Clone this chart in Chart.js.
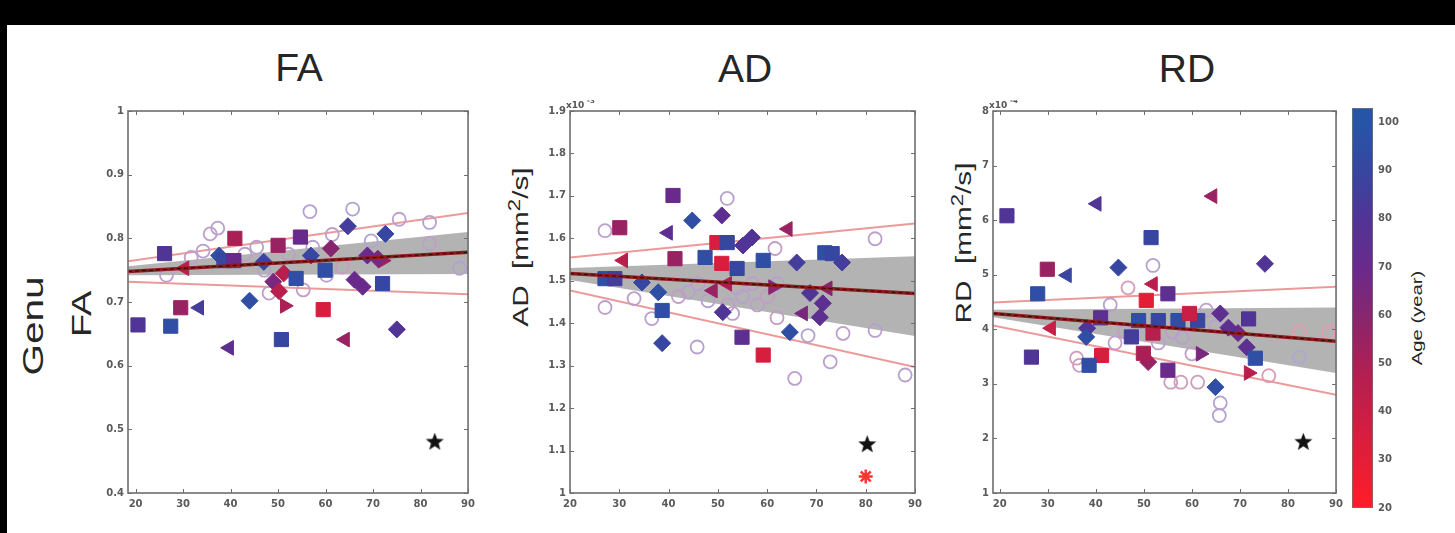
<!DOCTYPE html>
<html>
<head>
<meta charset="utf-8">
<script src="https://cdn.jsdelivr.net/npm/chart.js@4.4.1/dist/chart.umd.min.js"></script>
<style>
  html, body { margin: 0; padding: 0; background: #000; }
  body { width: 1455px; height: 533px; position: relative; overflow: hidden; font-family: 'Liberation Sans', Arial, sans-serif; }
  #sheet { position: absolute; left: 7px; top: 25px; width: 1448px; height: 508px; background: #fff; }
  canvas { position: absolute; }
  .title { position: absolute; font-size: 39px; color: #262626; line-height: 1; white-space: nowrap; transform: translate(-50%, -50%); }
  .vlabel { position: absolute; color: #262626; line-height: 1; white-space: nowrap; transform: translate(-50%, -50%) rotate(-90deg) scaleX(1.35); }
  .vlabel sup { font-size: 0.75em; }
</style>
</head>
<body>
<div id="sheet"></div>

<div class="title" style="left:299px; top:67px;">FA</div>
<div class="title" style="left:745px; top:68px;">AD</div>
<div class="title" style="left:1187px; top:68px;">RD</div>

<div class="vlabel" style="left:33px; top:326px; font-size:30px;">Genu</div>
<div class="vlabel" style="left:82px; top:314px; font-size:28px;">FA</div>
<div class="vlabel" style="left:519px; top:247px; font-size:22px;">AD&nbsp;&nbsp;[mm<sup>2</sup>/s]</div>
<div class="vlabel" style="left:962px; top:243px; font-size:22px;">RD&nbsp;&nbsp;[mm<sup>2</sup>/s]</div>
<div class="vlabel" style="left:1416px; top:318px; font-size:15px;">Age (year)</div>

<canvas id="faChart" width="392" height="420" style="left:88px; top:100px;"></canvas>
<canvas id="adChart" width="400" height="420" style="left:530px; top:100px;"></canvas>
<canvas id="rdChart" width="395" height="420" style="left:953px; top:100px;"></canvas>
<canvas id="cbChart" width="110" height="425" style="left:1345px; top:95px;"></canvas>

<script>
// ---- data ----
// groups: 0 square, 1 diamond, 2 left triangle, 3 right triangle, 4 open circle, 5 star, 6 asterisk
const xTicks = [20, 30, 40, 50, 60, 70, 80, 90];

// FA
const faX = [20.5, 26.1, 27.4, 29.5, 38.6, 40.9, 40.7, 50.0, 50.7, 53.8, 54.7, 59.5, 59.9, 72.0,
  37.6, 44.0, 47.0, 49.0, 51.2, 50.2, 56.9, 61.1, 64.7, 66.1, 67.8, 68.8, 71.0, 72.6, 75.0,
  30.3, 33.4, 39.7, 64.1,
  51.4, 72.0,
  26.5, 34.2, 35.7, 37.3, 48.1, 55.3, 56.7, 60.2, 61.4, 65.7, 75.5, 81.9, 81.9, 88.2, 43.0, 45.5, 52.2, 57.3, 69.6, 63.5, 31.7, 47.1,
  83.0];
const faY = [0.664, 0.776, 0.662, 0.691, 0.765, 0.800, 0.765, 0.789, 0.641, 0.737, 0.802, 0.688, 0.750, 0.729,
  0.773, 0.702, 0.763, 0.732, 0.745, 0.717, 0.773, 0.784, 0.819, 0.735, 0.724, 0.773, 0.768, 0.807, 0.657,
  0.753, 0.691, 0.628, 0.641,
  0.694, 0.765,
  0.742, 0.780, 0.807, 0.816, 0.714, 0.719, 0.842, 0.742, 0.806, 0.846, 0.830, 0.825, 0.792, 0.753, 0.775, 0.786, 0.775, 0.786, 0.796, 0.755, 0.770, 0.750,
  0.480];
const faGroup = [0, 0, 0, 0, 0, 0, 0, 0, 0, 0, 0, 0, 0, 0,
  1, 1, 1, 1, 1, 1, 1, 1, 1, 1, 1, 1, 1, 1, 1,
  2, 2, 2, 2,
  3, 3,
  4, 4, 4, 4, 4, 4, 4, 4, 4, 4, 4, 4, 4, 4, 4, 4, 4, 4, 4, 4, 4, 4,
  5];
const faAge = [80, 80, 95, 55, 90, 50, 70, 55, 90, 95, 70, 35, 95, 90,
  95, 95, 90, 65, 45, 45, 90, 60, 85, 70, 70, 70, 65, 90, 80,
  45, 85, 75, 55,
  50, 55,
  70, 75, 70, 75, 70, 65, 75, 70, 70, 80, 70, 75, 70, 80, 70, 75, 70, 75, 80, 60, 70, 75,
  0];
const faLineX = [18.4, 90];
const faFit = [0.748, 0.778];
const faBandHi = [0.756, 0.810];
const faBandLo = [0.742, 0.744];
const faPredHi = [0.764, 0.840];
const faPredLo = [0.732, 0.712];
const faYTicks = [0.4, 0.5, 0.6, 0.7, 0.8, 0.9, 1];

// AD (x10^-3 mm^2/s)
const adX = [40.9, 30.1, 49.8, 51.9, 41.3, 47.4, 50.8, 53.9, 59.2, 27.1, 29.1, 38.7, 54.9, 59.2, 71.7, 73.2,
  44.8, 50.8, 55.1, 56.9, 34.6, 37.9, 38.7, 51.0, 75.2, 66.0, 68.7, 71.3, 70.7, 64.6,
  39.9, 30.8, 51.9, 49.0, 64.2, 72.3, 67.3,
  61.2,
  27.1, 51.9, 27.1, 36.6, 45.8, 61.6, 81.9, 68.3, 75.4, 81.9, 72.8, 65.6, 88.0, 33.0, 42.0, 48.0, 52.0, 55.0, 58.0, 60.0, 62.0, 57.0, 44.0, 54.0, 62.0, 46.0, 53.0,
  80.3, 80.0];
const adY = [1.701, 1.625, 1.590, 1.590, 1.552, 1.555, 1.541, 1.529, 1.548, 1.505, 1.505, 1.430, 1.367, 1.325, 1.566, 1.564,
  1.642, 1.654, 1.583, 1.602, 1.496, 1.473, 1.353, 1.426, 1.543, 1.543, 1.471, 1.447, 1.414, 1.379,
  1.613, 1.548, 1.493, 1.477, 1.622, 1.482, 1.423,
  1.485,
  1.618, 1.694, 1.437, 1.411, 1.344, 1.576, 1.599, 1.371, 1.376, 1.383, 1.309, 1.270, 1.278, 1.458, 1.463, 1.453, 1.443, 1.463, 1.443, 1.463, 1.493, 1.493, 1.473, 1.483, 1.413, 1.493, 1.423,
  1.114, 1.039];
const adGroup = [0, 0, 0, 0, 0, 0, 0, 0, 0, 0, 0, 0, 0, 0, 0, 0,
  1, 1, 1, 1, 1, 1, 1, 1, 1, 1, 1, 1, 1, 1,
  2, 2, 2, 2, 2, 2, 2,
  3,
  4, 4, 4, 4, 4, 4, 4, 4, 4, 4, 4, 4, 4, 4, 4, 4, 4, 4, 4, 4, 4, 4, 4, 4, 4, 4, 4,
  5, 6];
const adAge = [70, 55, 35, 90, 55, 95, 35, 90, 95, 95, 85, 95, 75, 35, 95, 90,
  95, 75, 80, 80, 90, 95, 90, 80, 85, 85, 80, 75, 75, 95,
  75, 45, 50, 55, 55, 60, 65,
  60,
  70, 75, 70, 70, 75, 65, 70, 75, 70, 75, 70, 70, 75, 70, 65, 75, 70, 75, 70, 65, 75, 70, 75, 70, 65, 75, 70,
  0, 20];
const adLineX = [20, 90];
const adFit = [1.517, 1.470];
const adBandHi = [1.530, 1.558];
const adBandLo = [1.502, 1.370];
const adPredHi = [1.555, 1.635];
const adPredLo = [1.477, 1.297];
const adYTicks = [1, 1.1, 1.2, 1.3, 1.4, 1.5, 1.6, 1.7, 1.8, 1.9];

// RD (x10^-4 mm^2/s)
const rdX = [21.5, 26.6, 27.9, 29.9, 41.0, 41.2, 38.6, 47.4, 48.9, 53.0, 57.1, 61.2, 50.5, 51.5, 51.9, 55.0, 55.0, 59.5, 49.9, 71.8, 73.2,
  44.7, 38.2, 38.0, 50.9, 64.9, 65.9, 75.2, 71.4, 69.6, 67.6,
  34.0, 40.2, 64.3, 51.9, 30.7,
  71.8, 61.8,
  51.9, 36.6, 57.7, 55.6, 61.2, 76.0, 82.4, 82.4, 88.4, 65.9, 65.7, 36.0, 46.7, 44.0, 46.0, 56.0, 58.0, 63.0, 65.0, 60.0, 53.0, 43.0,
  83.2];
const rdY = [6.08, 3.49, 4.65, 5.10, 4.21, 3.52, 3.34, 3.86, 4.16, 4.16, 4.16, 4.16, 4.53, 5.68, 3.93, 4.65, 3.25, 4.29, 3.56, 4.19, 3.47,
  5.13, 4.02, 3.86, 3.40, 2.94, 4.29, 5.20, 3.67, 3.93, 4.03,
  4.99, 6.30, 6.44, 4.83, 4.02,
  3.20, 3.55,
  5.17, 3.34, 3.03, 3.03, 3.03, 3.15, 3.49, 3.95, 3.95, 2.65, 2.42, 3.47, 4.76, 3.75, 3.95, 3.95, 3.85, 4.35, 4.05, 3.55, 3.75, 4.45,
  1.93];
const rdGroup = [0, 0, 0, 0, 0, 0, 0, 0, 0, 0, 0, 0, 0, 0, 0, 0, 0, 0, 0, 0, 0,
  1, 1, 1, 1, 1, 1, 1, 1, 1, 1,
  2, 2, 2, 2, 2,
  3, 3,
  4, 4, 4, 4, 4, 4, 4, 4, 4, 4, 4, 4, 4, 4, 4, 4, 4, 4, 4, 4, 4, 4,
  5];
const rdAge = [80, 80, 95, 55, 75, 35, 95, 85, 95, 90, 95, 90, 30, 90, 45, 75, 70, 40, 50, 80, 95,
  90, 80, 95, 55, 95, 75, 80, 75, 70, 75,
  90, 80, 55, 45, 40,
  45, 65,
  75, 60, 55, 60, 55, 45, 85, 40, 40, 75, 75, 55, 50, 70, 65, 70, 75, 70, 75, 65, 70, 75,
  0];
const rdLineX = [18.6, 90];
const rdFit = [4.29, 3.78];
const rdBandHi = [4.36, 4.40];
const rdBandLo = [4.22, 3.20];
const rdPredHi = [4.49, 4.78];
const rdPredLo = [4.07, 2.80];
const rdYTicks = [1, 2, 3, 4, 5, 6, 7, 8];

// colour bar
const cbTicks = [20, 30, 40, 50, 60, 70, 80, 90, 100];
const cbRange = [20, 103];

// ---- styling ----
Chart.defaults.animation = false;
Chart.defaults.font.family = 'DejaVu Sans';

const AGE_STOPS = [[20, [255, 28, 40]], [35, [215, 30, 62]], [50, [170, 32, 85]], [60, [135, 38, 110]],
  [70, [105, 42, 140]], [80, [80, 52, 150]], [90, [55, 70, 160]], [100, [38, 85, 168]]];

function ageRgb(a) {
  if (a <= AGE_STOPS[0][0]) return AGE_STOPS[0][1];
  for (let i = 1; i < AGE_STOPS.length; i++) {
    const [a1, c1] = AGE_STOPS[i];
    if (a <= a1) {
      const [a0, c0] = AGE_STOPS[i - 1];
      const t = (a - a0) / (a1 - a0);
      return c0.map((v, k) => Math.round(v + (c1[k] - v) * t));
    }
  }
  return AGE_STOPS[AGE_STOPS.length - 1][1];
}
const rgb = c => `rgb(${c[0]},${c[1]},${c[2]})`;
const light = c => rgb(c.map(v => Math.round(v + (255 - v) * 0.55)));

function starImage(size) {
  const c = document.createElement('canvas');
  c.width = c.height = size;
  const g = c.getContext('2d');
  g.fillStyle = '#111';
  g.beginPath();
  for (let i = 0; i < 10; i++) {
    const r = i % 2 ? size * 0.21 : size * 0.5;
    const a = -Math.PI / 2 + i * Math.PI / 5;
    g.lineTo(size / 2 + r * Math.cos(a), size / 2 + r * Math.sin(a));
  }
  g.closePath();
  g.fill();
  return c;
}
const STAR = starImage(19);

const MARKERS = [
  { style: 'rect', r: 10, rot: 0, order: 5 },
  { style: 'rectRot', r: 8.5, rot: 0, order: 5 },
  { style: 'triangle', r: 8.5, rot: -90, order: 5 },
  { style: 'triangle', r: 8.5, rot: 90, order: 5 },
  { style: 'circle', r: 6.5, rot: 0, order: 7, hollow: true },
  { style: STAR, r: 9, rot: 0, order: 0, fixed: '#111' },
  { style: 'star', r: 7, rot: 0, order: 0, fixed: '#ff3535' },
];

function buildDatasets(xs, ys, groups, ages, lineX, fit, bandHi, bandLo, predHi, predLo) {
  const seg = vals => lineX.map((x, i) => ({ x, y: vals[i] }));
  const line = (vals, extra) => Object.assign({ data: seg(vals), showLine: true, pointRadius: 0, fill: false }, extra);
  const sets = [
    line(bandHi, { borderWidth: 0, fill: '+1', backgroundColor: 'rgba(150,150,150,0.72)', order: 10 }),
    line(bandLo, { borderWidth: 0, order: 10 }),
    line(predHi, { borderColor: 'rgba(228,120,120,0.75)', borderWidth: 2, order: 9 }),
    line(predLo, { borderColor: 'rgba(228,120,120,0.75)', borderWidth: 2, order: 9 }),
  ];
  MARKERS.forEach((m, g) => {
    const idx = groups.map((v, i) => v === g ? i : -1).filter(i => i >= 0);
    if (!idx.length) return;
    const fill = idx.map(i => m.fixed || rgb(ageRgb(ages[i])));
    const edge = idx.map(i => m.fixed || (m.hollow ? light(ageRgb(ages[i])) : rgb(ageRgb(ages[i]))));
    sets.push({
      data: idx.map(i => ({ x: xs[i], y: ys[i] })),
      pointStyle: m.style,
      pointRadius: m.r,
      pointRotation: m.rot,
      pointBackgroundColor: m.hollow ? 'rgba(255,255,255,0)' : fill,
      pointBorderColor: edge,
      pointBorderWidth: m.hollow ? 1.8 : (m.style === 'star' ? 2.5 : 1),
      order: m.order,
    });
  });
  sets.push(line(fit, { borderColor: '#8e1c1c', borderWidth: 3.5, order: 2 }));
  sets.push(line(fit, { borderColor: '#3a0a0a', borderWidth: 1.2, borderDash: [4, 3], order: 1 }));
  return sets;
}

const boxPlugin = {
  id: 'matlabBox',
  afterDatasetsDraw(chart, args, opts) {
    const { ctx, chartArea: a, scales: { x, y } } = chart;
    ctx.save();
    ctx.strokeStyle = '#6e6e6e';
    ctx.lineWidth = 1;
    ctx.beginPath();
    x.ticks.forEach(t => {
      const p = Math.round(x.getPixelForValue(t.value)) + 0.5;
      ctx.moveTo(p, a.bottom); ctx.lineTo(p, a.bottom - 4);
      ctx.moveTo(p, a.top); ctx.lineTo(p, a.top + 4);
    });
    y.ticks.forEach(t => {
      const p = Math.round(y.getPixelForValue(t.value)) + 0.5;
      ctx.moveTo(a.left, p); ctx.lineTo(a.left + 4, p);
      ctx.moveTo(a.right, p); ctx.lineTo(a.right - 4, p);
    });
    ctx.stroke();
    ctx.lineWidth = 1.6;
    ctx.strokeRect(a.left, a.top, a.right - a.left, a.bottom - a.top);
    if (opts.exponent) {
      ctx.fillStyle = '#555';
      ctx.textBaseline = 'alphabetic';
      ctx.textAlign = 'left';
      ctx.font = 'bold 9px DejaVu Sans';
      ctx.fillText('x10', a.left - 4, a.top - 3);
      ctx.font = 'bold 7px DejaVu Sans';
      ctx.fillText(opts.exponent, a.left + 17, a.top - 8);
    }
    ctx.restore();
  }
};

const TICK_FONT = { size: 10, weight: 'bold', family: 'DejaVu Sans' };

function makePanel(id, datasets, xMin, yTicks, pad, exponent) {
  new Chart(document.getElementById(id), {
    type: 'scatter',
    data: { datasets },
    plugins: [boxPlugin],
    options: {
      responsive: false,
      devicePixelRatio: 1,
      events: [],
      layout: { padding: pad },
      plugins: { legend: { display: false }, tooltip: { enabled: false }, matlabBox: { exponent } },
      scales: {
        x: {
          type: 'linear', min: xMin, max: 90,
          afterBuildTicks: s => { s.ticks = xTicks.map(v => ({ value: v })); },
          afterFit: s => { s.height = 27; },
          grid: { display: false, drawTicks: false },
          border: { display: false },
          ticks: { font: TICK_FONT, color: '#5a5a5a', padding: 5, maxRotation: 0, autoSkip: false },
        },
        y: {
          type: 'linear', min: yTicks[0], max: yTicks[yTicks.length - 1],
          afterBuildTicks: s => { s.ticks = yTicks.map(v => ({ value: v })); },
          afterFit: s => { s.width = 40; },
          grid: { display: false, drawTicks: false },
          border: { display: false },
          ticks: { font: TICK_FONT, color: '#5a5a5a', padding: 4, autoSkip: false, callback: v => String(v) },
        },
      },
    },
  });
}

makePanel('faChart', buildDatasets(faX, faY, faGroup, faAge, faLineX, faFit, faBandHi, faBandLo, faPredHi, faPredLo),
  faLineX[0], faYTicks, { left: 0, right: 7, top: 6, bottom: 0 }, null);
makePanel('adChart', buildDatasets(adX, adY, adGroup, adAge, adLineX, adFit, adBandHi, adBandLo, adPredHi, adPredLo),
  adLineX[0], adYTicks, { left: 0, right: 15, top: 10, bottom: 0 }, '-3');
makePanel('rdChart', buildDatasets(rdX, rdY, rdGroup, rdAge, rdLineX, rdFit, rdBandHi, rdBandLo, rdPredHi, rdPredLo),
  rdLineX[0], rdYTicks, { left: 0, right: 8, top: 10, bottom: 0 }, '-4');

// colour bar as a single floating bar filled with the age gradient
new Chart(document.getElementById('cbChart'), {
  type: 'bar',
  data: {
    labels: [''],
    datasets: [{
      data: [cbRange],
      barPercentage: 1,
      categoryPercentage: 1,
      borderWidth: 1,
      borderColor: '#777',
      borderSkipped: false,
      backgroundColor: ctx => {
        const { chart } = ctx;
        const y = chart.scales.y;
        if (!chart.chartArea || !y) return '#888';
        const g = chart.ctx.createLinearGradient(0, y.getPixelForValue(20), 0, y.getPixelForValue(100));
        AGE_STOPS.forEach(([a, c]) => g.addColorStop((a - 20) / 80, rgb(c)));
        return g;
      },
    }],
  },
  options: {
    responsive: false,
    devicePixelRatio: 1,
    events: [],
    layout: { padding: { left: 7, top: 13, bottom: 12, right: 0 } },
    plugins: { legend: { display: false }, tooltip: { enabled: false } },
    scales: {
      x: { display: false },
      y: {
        position: 'right', min: cbRange[0], max: cbRange[1],
        afterBuildTicks: s => { s.ticks = cbTicks.map(v => ({ value: v })); },
        afterFit: s => { s.width = 82; },
        grid: { display: false, drawTicks: false },
        border: { display: false },
        ticks: { font: TICK_FONT, color: '#5a5a5a', padding: 5, autoSkip: false },
      },
    },
  },
});
</script>
</body>
</html>
